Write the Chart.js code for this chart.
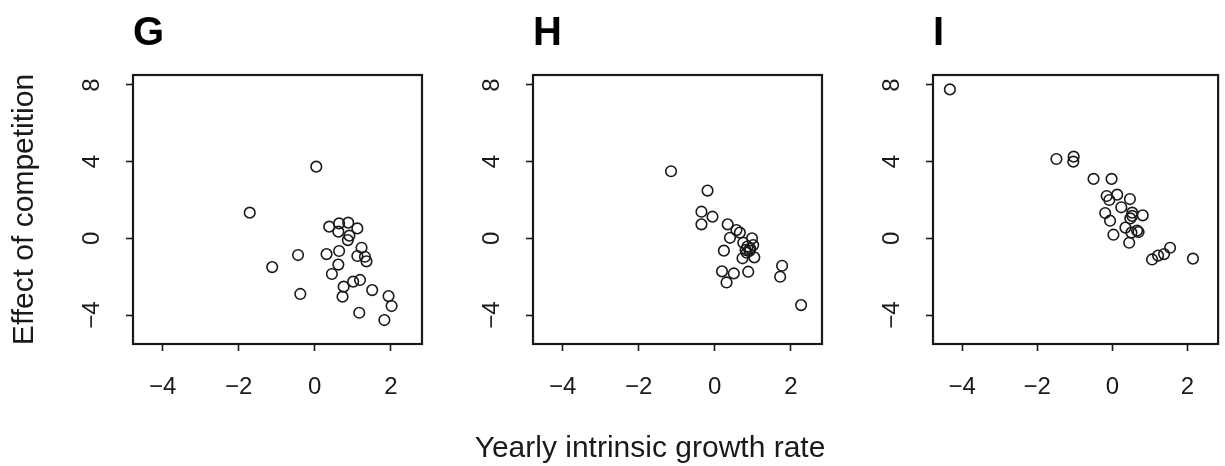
<!DOCTYPE html>
<html>
<head>
<meta charset="utf-8">
<script src="https://cdn.jsdelivr.net/npm/chart.js@4/dist/chart.umd.min.js"></script>
<style>
  html, body { margin: 0; padding: 0; background: #fff; overflow: hidden; }
  #wrap { position: relative; width: 1225px; height: 466px; font-family: "Liberation Sans", Arial, sans-serif; color: #1a1a1a; }
  canvas { position: absolute; top: 0; }
  .panel-label { position: absolute; top: 10.5px; font-size: 40px; font-weight: bold; line-height: 1; color: #000; }
  #xlabel { position: absolute; left: 350px; width: 600px; top: 432px; text-align: center; font-size: 30px; line-height: 1; }
</style>
</head>
<body>
<div id="wrap">
  <canvas id="chartG" width="450" height="466" style="left:0px"></canvas>
  <canvas id="chartH" width="400" height="466" style="left:450px"></canvas>
  <canvas id="chartI" width="375" height="466" style="left:850px"></canvas>
  <div class="panel-label" style="left:133px">G</div>
  <div class="panel-label" style="left:533px">H</div>
  <div class="panel-label" style="left:933px">I</div>
  <div id="xlabel">Yearly intrinsic growth rate</div>
</div>
<script>
// axis ticks
const xTicks = [-4, -2, 0, 2];
const xTickLabels = ['\u22124', '\u22122', '0', '2'];
const yTicks = [-4, 0, 4, 8];
const yTickLabels = ['\u22124', '0', '4', '8'];

const yTitle = 'Effect of competition';

// panel G
const gX = [0.04, -1.71, 0.38, 0.64, 0.88, 1.12, 0.62, 0.91, 0.87, 1.23, 1.12, 1.32, 1.36, 0.64, 0.31,
  -0.44, -1.12, 0.62, 0.45, 1.01, 1.19, 0.76, 0.73, -0.38, 1.51, 1.94, 2.02, 1.17, 1.83];
const gY = [3.74, 1.34, 0.61, 0.78, 0.82, 0.52, 0.35, 0.14, -0.09, -0.49, -0.92, -0.96, -1.20, -0.66, -0.82,
  -0.87, -1.50, -1.37, -1.86, -2.26, -2.17, -2.52, -3.04, -2.90, -2.70, -3.01, -3.53, -3.88, -4.26];

// panel H
const hX = [-1.15, -0.19, -0.35, -0.06, -0.35, 0.34, 0.57, 0.66, 0.40, 0.98, 0.75, 1.01, 0.86, 0.81,
  0.92, 0.24, 0.73, 1.04, 0.84, 0.19, 0.50, 0.31, 0.88, 1.77, 1.72, 2.27, 0.93];
const hY = [3.50, 2.49, 1.39, 1.13, 0.73, 0.73, 0.43, 0.30, 0.03, 0.00, -0.23, -0.35, -0.43, -0.61,
  -0.64, -0.64, -1.04, -0.99, -0.75, -1.72, -1.83, -2.30, -1.74, -1.43, -2.00, -3.48, -0.52];

// panel I
const iX = [-4.33, -1.49, -1.03, -1.04, -0.50, -0.02, -0.15, 0.13, -0.08, 0.47, 0.24, 0.53, 0.81, -0.19,
  0.48, -0.06, 0.35, 0.66, 0.70, 0.51, 0.03, 0.45, 1.06, 1.22, 1.38, 1.54, 2.15, 0.53];
const iY = [7.77, 4.14, 4.26, 4.00, 3.10, 3.10, 2.21, 2.28, 2.00, 2.05, 1.62, 1.34, 1.20, 1.32,
  1.04, 0.92, 0.56, 0.40, 0.33, 0.30, 0.19, -0.23, -1.10, -0.90, -0.82, -0.49, -1.06, 1.17];

const ink = '#1a1a1a';
const font = 'Liberation Sans, Arial, sans-serif';

// box around the plot area
const framePlugin = {
  id: 'frame',
  afterDraw(chart) {
    const a = chart.chartArea;
    const ctx = chart.ctx;
    ctx.save();
    ctx.strokeStyle = ink;
    ctx.lineWidth = 2.2;
    ctx.strokeRect(a.left, a.top, a.right - a.left, a.bottom - a.top);
    ctx.restore();
  }
};

function makePanel(id, xs, ys, yAxisWidth, padRight, showTitle) {
  const pts = xs.map((x, i) => ({ x: x, y: ys[i] }));
  return new Chart(document.getElementById(id), {
    type: 'scatter',
    data: {
      datasets: [{
        data: pts,
        pointStyle: 'circle',
        pointRadius: 5.3,
        pointBorderWidth: 1.6,
        pointBorderColor: ink,
        pointBackgroundColor: 'rgba(0,0,0,0)'
      }]
    },
    options: {
      responsive: false,
      animation: false,
      events: [],
      layout: { padding: { top: 75, bottom: 62, left: 0, right: padRight } },
      plugins: { legend: { display: false }, tooltip: { enabled: false } },
      scales: {
        x: {
          type: 'linear',
          bounds: 'data',
          min: -4.78,
          max: 2.82,
          afterBuildTicks: s => { s.ticks = xTicks.map(v => ({ value: v })); },
          afterFit: s => { s.height = 60; },
          grid: { drawOnChartArea: false, drawTicks: true, tickLength: 7, tickWidth: 1.6, tickColor: ink },
          border: { display: false },
          ticks: {
            padding: 21.6,
            color: ink,
            font: { family: font, size: 24 },
            maxRotation: 0,
            callback: v => xTickLabels[xTicks.indexOf(v)]
          }
        },
        y: {
          type: 'linear',
          bounds: 'data',
          min: -5.51,
          max: 8.52,
          afterBuildTicks: s => { s.ticks = yTicks.map(v => ({ value: v })); },
          afterFit: s => { s.width = yAxisWidth; },
          grid: { drawOnChartArea: false, drawTicks: true, tickLength: 7, tickWidth: 1.6, tickColor: ink },
          border: { display: false },
          title: {
            display: showTitle,
            text: yTitle,
            color: ink,
            font: { family: font, size: 30 },
            padding: { top: 6.6, bottom: 0 }
          },
          ticks: {
            padding: 20,
            color: ink,
            crossAlign: 'center',
            minRotation: 90,
            maxRotation: 90,
            font: { family: font, size: 24 },
            callback: v => yTickLabels[yTicks.indexOf(v)]
          }
        }
      }
    },
    plugins: [framePlugin]
  });
}

makePanel('chartG', gX, gY, 133, 28, true);
makePanel('chartH', hX, hY, 83, 28, false);
makePanel('chartI', iX, iY, 83, 3, false);
</script>
</body>
</html>
